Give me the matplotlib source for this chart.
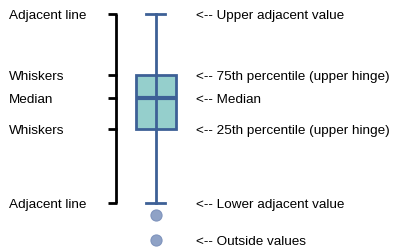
import matplotlib
matplotlib.use("Agg")
import matplotlib.pyplot as plt

plt.rcParams['font.family'] = ['Liberation Sans', 'DejaVu Sans']

# Box statistics (in diagram units, top = small)
upper_adjacent = 14
q3 = 75
median = 98
q1 = 129
lower_adjacent = 203
outliers = [215, 240]

left_labels = ["Adjacent line", "Whiskers", "Median", "Whiskers", "Adjacent line"]
left_values = [upper_adjacent, q3, median, q1, lower_adjacent]
right_labels = ["<-- Upper adjacent value", "<-- 75th percentile (upper hinge)",
                "<-- Median", "<-- 25th percentile (upper hinge)",
                "<-- Lower adjacent value", "<-- Outside values"]
right_values = [upper_adjacent, q3, median, q1, lower_adjacent, outliers[-1]]

fig = plt.figure(figsize=(3.93, 2.47), dpi=100)
ax = fig.add_axes([0, 0, 1, 1])
ax.set_xlim(0, 393)
ax.set_ylim(247, 0)
ax.axis('off')

edge = '#3d6096'
pos = 155.5
stats = [dict(med=median, q1=q1, q3=q3, whislo=lower_adjacent, whishi=upper_adjacent,
              fliers=outliers)]
ax.bxp(stats, positions=[pos], widths=40, patch_artist=True, manage_ticks=False,
       boxprops=dict(facecolor='#95cfcc', edgecolor=edge, linewidth=2),
       medianprops=dict(color=edge, linewidth=3),
       whiskerprops=dict(color=edge, linewidth=2),
       capprops=dict(color=edge, linewidth=2),
       capwidths=19,
       flierprops=dict(marker='o', markersize=8, markerfacecolor='#8fa2c6',
                       markeredgecolor='#7f94bd', markeredgewidth=0.8,
                       linestyle='none'))
# whisker line continues through the box
ax.plot([pos, pos], [q3, q1], color=edge, lw=2, zorder=3)

# Bracket
bx = 116
ax.plot([bx, bx], [upper_adjacent, lower_adjacent], color='black', lw=2,
        solid_capstyle='butt')
for v in left_values:
    ax.plot([108, bx + 1], [v, v], color='black', lw=2, solid_capstyle='butt')

for lab, v in zip(left_labels, left_values):
    ax.text(9, v, lab, fontsize=9.7, va='center_baseline', ha='left', color='black')
for lab, v in zip(right_labels, right_values):
    ax.text(196, v, lab, fontsize=9.7, va='center_baseline', ha='left', color='black')

fig.savefig('out.png', dpi=100)
